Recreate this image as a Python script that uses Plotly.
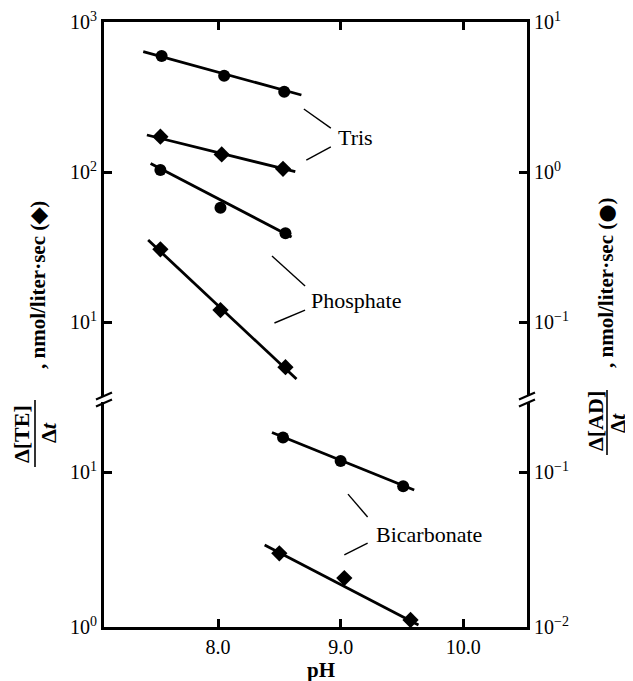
import numpy as np
import plotly.graph_objects as go

# ---------------- data ----------------
# Tris
tris_ad_ph = [7.54, 8.05, 8.54]
tris_ad = [5.93, 4.38, 3.43]                 # circles, right axis
tris_ad_line_ph = [7.39, 8.68]
tris_ad_line = [6.34, 3.26]
tris_te_ph = [7.53, 8.03, 8.53]
tris_te = [172, 131, 105]                    # diamonds, left axis
tris_te_line_ph = [7.42, 8.63]
tris_te_line = [176.5, 100.5]
# Phosphate
phos_ad_ph = [7.53, 8.02, 8.55]
phos_ad = [1.03, 0.578, 0.39]
phos_ad_line_ph = [7.45, 8.60]
phos_ad_line = [1.14, 0.369]
phos_te_ph = [7.53, 8.02, 8.55]
phos_te = [30.5, 12.0, 5.0]
phos_te_line_ph = [7.43, 8.64]
phos_te_line = [35.2, 4.17]
# Bicarbonate
bic_ad_ph = [8.53, 9.00, 9.51]
bic_ad = [0.167, 0.118, 0.081]
bic_ad_line_ph = [8.44, 9.60]
bic_ad_line = [0.180, 0.0766]
bic_te_ph = [8.50, 9.03, 9.57]
bic_te = [2.99, 2.07, 1.11]
bic_te_line_ph = [8.38, 9.635]
bic_te_line = [3.38, 1.03]

# tick labels
x_ticks = [8, 9, 10]
x_ticktext = ["8.0", "9.0", "10.0"]
left_up_ticks = [1000, 100, 10]
left_up_text = ["10<sup>3</sup>", "10<sup>2</sup>", "10<sup>1</sup>"]
left_lo_ticks = [10, 1]
left_lo_text = ["10<sup>1</sup>", "10<sup>0</sup>"]
right_up_ticks = [10, 1, 0.1]
right_up_text = ["10<sup>1</sup>", "10<sup>0</sup>", "10<sup>−1</sup>"]
right_lo_ticks = [0.1, 0.01]
right_lo_text = ["10<sup>−1</sup>", "10<sup>−2</sup>"]

# leader lines for labels (pH, left-axis value)
tris_leaders = [([8.70, 8.92], [263, 196]), ([8.72, 8.92], [120, 147])]
phos_leaders = [([8.44, 8.71], [27.5, 17.4]), ([8.46, 8.71], [9.85, 12.0])]
bic_leaders = [([9.06, 9.22], [7.2, 5.13]), ([9.03, 9.22], [2.92, 3.48])]
labels = [("Tris", 8.96, 171, "y"), ("Phosphate", 8.74, 14.0, "y"),
          ("Bicarbonate", 9.27, 3.93, "y2")]

# ---------------- figure ----------------
OFF = 8                      # page body margin of the browser
W, H = 633 - OFF, 681 - OFF
ML, MT = 104 - OFF, 22 - OFF
MR = W - (527 - OFF)
MB = H - (627 - OFF)
PW, PH = W - ML - MR, H - MT - MB
BREAK_PY = 400
split = (627 - BREAK_PY) / PH

FONT = "Liberation Serif"
BLACK = "black"


def px_x(px):                # reference-window pixel -> paper
    return (px - 104) / PW


def px_y(py):
    return (627 - py) / PH


fig = go.Figure()


def add_series(ph, vals, lph, lvals, xa, ya, symbol, size):
    fig.add_trace(go.Scatter(x=lph, y=lvals, mode="lines", xaxis=xa, yaxis=ya,
                             line=dict(color=BLACK, width=2.8), showlegend=False,
                             hoverinfo="skip"))
    fig.add_trace(go.Scatter(x=ph, y=vals, mode="markers", xaxis=xa, yaxis=ya,
                             marker=dict(symbol=symbol, size=size, color=BLACK,
                                         line=dict(width=0)),
                             showlegend=False))


add_series(tris_ad_ph, tris_ad, tris_ad_line_ph, tris_ad_line, "x2", "y3", "circle", 12)
add_series(tris_te_ph, tris_te, tris_te_line_ph, tris_te_line, "x2", "y", "diamond", 12.5)
add_series(phos_ad_ph, phos_ad, phos_ad_line_ph, phos_ad_line, "x2", "y3", "circle", 12)
add_series(phos_te_ph, phos_te, phos_te_line_ph, phos_te_line, "x2", "y", "diamond", 12.5)
add_series(bic_ad_ph, bic_ad, bic_ad_line_ph, bic_ad_line, "x", "y4", "circle", 12)
add_series(bic_te_ph, bic_te, bic_te_line_ph, bic_te_line, "x", "y2", "diamond", 12.5)

for leaders, xa, ya in [(tris_leaders, "x2", "y"), (phos_leaders, "x2", "y"),
                        (bic_leaders, "x", "y2")]:
    for lx, ly in leaders:
        fig.add_trace(go.Scatter(x=lx, y=ly, mode="lines", xaxis=xa, yaxis=ya,
                                 line=dict(color=BLACK, width=1.4),
                                 showlegend=False, hoverinfo="skip"))

annotations = []
for text, xv, yv, ya in labels:
    annotations.append(dict(text=text, x=xv, y=np.log10(yv),
                            xref="x" if ya == "y2" else "x2", yref=ya,
                            xanchor="left", yanchor="middle", showarrow=False,
                            font=dict(family=FONT, size=22, color=BLACK)))


def txt(text, px, py, size=21, angle=0):
    annotations.append(dict(text=text, x=px_x(px), y=px_y(py), xref="paper",
                            yref="paper", textangle=angle, showarrow=False,
                            xanchor="center", yanchor="middle", borderpad=0,
                            font=dict(family=FONT, size=size, color=BLACK)))


DOT = '<span style="font-family:DejaVu Sans">●</span>'
# x-axis title
txt("<b>pH</b>", 321, 670, 21)
# y-axis titles (rotated, built from pieces to form the fractions)
txt("<b>Δ[TE]</b>", 21, 434, 22, -90)
txt("<b>Δ<i>t</i></b>", 48, 433, 22, -90)
txt("<b>, nmol/liter·sec (◆)</b>", 38, 285, 21, -90)
txt("<b>Δ[AD]</b>", 595, 421, 22, -90)
txt("<b>Δ<i>t</i></b>", 618, 423, 21, -90)
txt("<b>, nmol/liter·sec (" + DOT + ")</b>", 606, 283, 21, -90)

shapes = []
# fraction bars
for bx, y0, y1 in [(35, 400, 467), (607, 390, 455)]:
    shapes.append(dict(type="line", xref="paper", yref="paper",
                       x0=px_x(bx), x1=px_x(bx), y0=px_y(y0), y1=px_y(y1),
                       line=dict(color=BLACK, width=1.6)))

# axis break marks
for ax in [0, 1]:
    yb = px_y(BREAK_PY - 1)
    shapes.append(dict(type="rect", xref="paper", yref="paper",
                       xsizemode="pixel", ysizemode="pixel", xanchor=ax, yanchor=yb,
                       x0=-4, x1=4, y0=-3, y1=3, fillcolor="white",
                       line=dict(width=0)))
    for dy in [(-7, 0), (0, 7)]:
        shapes.append(dict(type="line", xref="paper", yref="paper",
                           xsizemode="pixel", ysizemode="pixel", xanchor=ax,
                           yanchor=yb, x0=-8, x1=8, y0=dy[0] - 0.5, y1=dy[1] - 0.5,
                           line=dict(color=BLACK, width=2.2)))

axis_common = dict(showline=True, linecolor=BLACK, linewidth=3, ticks="inside",
                   ticklen=8, tickwidth=2.5, tickcolor=BLACK, showgrid=False,
                   zeroline=False, automargin=False,
                   tickfont=dict(family=FONT, size=20, color=BLACK))

fig.update_layout(
    width=W, height=H,
    margin=dict(l=ML, r=MR, t=MT, b=MB, pad=0, autoexpand=False),
    paper_bgcolor="white", plot_bgcolor="white",
    showlegend=False,
    xaxis=dict(domain=[0, 1], anchor="y2", range=[7.07, 10.52],
               tickmode="array", tickvals=x_ticks, ticktext=x_ticktext,
               **axis_common),
    xaxis2=dict(domain=[0, 1], anchor="y", matches="x", side="top",
                tickmode="array", tickvals=x_ticks, showticklabels=False,
                **axis_common),
    yaxis=dict(domain=[split, 1], anchor="x2", type="log", range=[0.48, 3.0],
               tickmode="array", tickvals=left_up_ticks, ticktext=left_up_text,
               **axis_common),
    yaxis2=dict(domain=[0, split], anchor="x", type="log", range=[0.0, 1.465],
                tickmode="array", tickvals=left_lo_ticks, ticktext=left_lo_text,
                **axis_common),
    yaxis3=dict(overlaying="y", anchor="x2", side="right", type="log",
                range=[0.48 - 2, 1.0], tickmode="array", tickvals=right_up_ticks,
                ticktext=right_up_text, **axis_common),
    yaxis4=dict(overlaying="y2", anchor="x", side="right", type="log",
                range=[-2.0, 1.465 - 2], tickmode="array", tickvals=right_lo_ticks,
                ticktext=right_lo_text, **axis_common),
    annotations=annotations,
    shapes=shapes,
)

fig.write_html("out.html")
